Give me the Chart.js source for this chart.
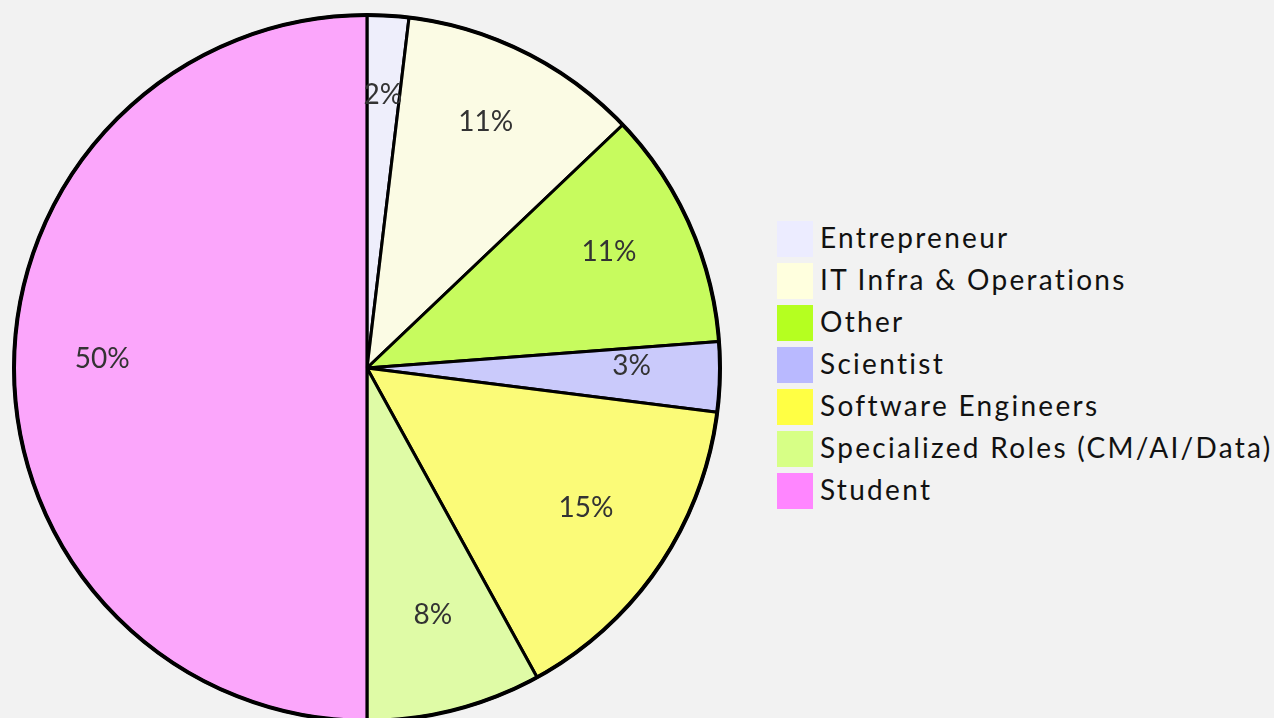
<!DOCTYPE html>
<html>
<head>
<meta charset="utf-8">
<script src="https://cdn.jsdelivr.net/npm/chart.js@4/dist/chart.umd.min.js"></script>
<style>
  html, body { margin: 0; padding: 0; background: #f2f2f2; width: 1274px; height: 718px; overflow: hidden; }
  #wrap { position: absolute; left: 0; top: 0; width: 734px; height: 736px; }
  #legend { position: absolute; left: 777px; top: 221px; font-family: Lato, "DejaVu Sans", sans-serif; font-size: 28px; color: #111; letter-spacing: 2.3px; }
  .row { position: relative; height: 42px; }
  .sw { position: absolute; left: 0; top: 0; width: 36px; height: 36px; }
  .lt { position: absolute; left: 43px; top: -2px; line-height: 36px; white-space: nowrap; }
</style>
</head>
<body>
<div id="wrap"><canvas id="c"></canvas></div>
<div id="legend"></div>
<script>
const categories = ["Entrepreneur", "IT Infra & Operations", "Other", "Scientist", "Software Engineers", "Specialized Roles (CM/AI/Data)", "Student"];
const shares = [1.9, 11.0, 10.9, 3.2, 15.0, 8.0, 50.0];
const colors = ["#ECECFF", "#FFFFDE", "#B5FF20", "#B9B9FF", "#FFFF44", "#D7FF86", "#FF86FF"];

function withAlpha(hex, a) {
  const r = parseInt(hex.slice(1,3),16), g = parseInt(hex.slice(3,5),16), b = parseInt(hex.slice(5,7),16);
  return `rgba(${r},${g},${b},${a})`;
}

const total = shares.reduce((s, v) => s + v, 0);

const labelPlugin = {
  id: 'pctLabels',
  afterDatasetsDraw(chart) {
    const ctx = chart.ctx;
    const meta = chart.getDatasetMeta(0);
    ctx.save();
    // outer circle
    ctx.beginPath();
    ctx.arc(meta.data[0].x, meta.data[0].y, meta.data[0].outerRadius, 0, Math.PI * 2);
    ctx.lineWidth = 4;
    ctx.strokeStyle = '#000';
    ctx.stroke();
    ctx.font = '28px Lato, "DejaVu Sans", sans-serif';
    ctx.fillStyle = '#333333';
    ctx.textAlign = 'center';
    ctx.textBaseline = 'alphabetic';
    meta.data.forEach((arc, i) => {
      const p = arc.getProps(['x','y','startAngle','endAngle','outerRadius'], true);
      const mid = (p.startAngle + p.endAngle) / 2;
      const r = p.outerRadius * 0.75;
      const x = p.x + Math.cos(mid) * r;
      const y = p.y + Math.sin(mid) * r;
      ctx.fillText(Math.round(shares[i] / total * 100) + '%', x, y);
    });
    ctx.restore();
  }
};

new Chart(document.getElementById('c'), {
  type: 'pie',
  data: {
    labels: categories,
    datasets: [{
      data: shares,
      backgroundColor: colors.map(c => withAlpha(c, 0.7)),
      borderColor: '#000000',
      borderWidth: 3,
      hoverOffset: 0
    }]
  },
  options: {
    responsive: true,
    maintainAspectRatio: false,
    animation: false,
    radius: 353,
    layout: { padding: 0 },
    plugins: { legend: { display: false }, tooltip: { enabled: false } },
    events: []
  },
  plugins: [labelPlugin]
});

const lg = document.getElementById('legend');
categories.forEach((name, i) => {
  const row = document.createElement('div');
  row.className = 'row';
  const sw = document.createElement('div');
  sw.className = 'sw';
  sw.style.background = colors[i];
  const t = document.createElement('div');
  t.className = 'lt';
  t.textContent = name;
  row.appendChild(sw);
  row.appendChild(t);
  lg.appendChild(row);
});
</script>
</body>
</html>
